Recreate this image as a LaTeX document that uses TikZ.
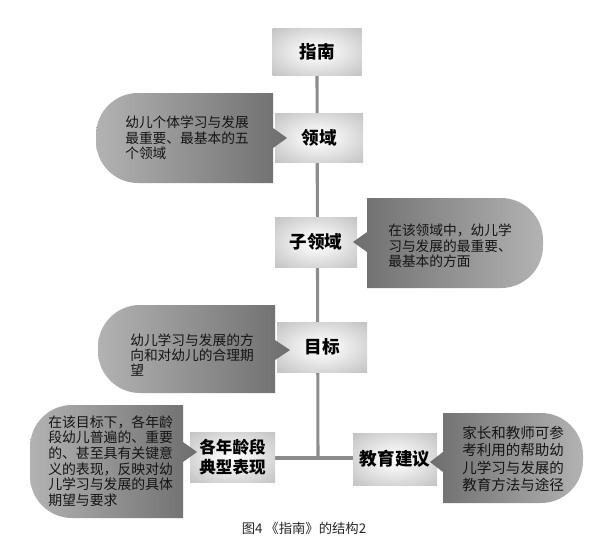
\documentclass[tikz,border=0pt]{standalone}
\usepackage{fontspec}
\setmainfont{Noto Sans CJK SC}
\usetikzlibrary{calc,backgrounds}
\pgfdeclareradialshading{boxshade}{\pgfpoint{0bp}{0bp}}{color(0bp)=(white); color(8bp)=(white!96!black); color(50bp)=(black!34); color(100bp)=(black!34)}
\newcommand{\lblob}[8]{% x1 y1 x2 y2 xt yt r shades
  \shade[#8] (#3,#2) -- ({#1+#7},#2) .. controls ({#1+0.448*#7},#2) and (#1,{#2+0.448*#7}) .. (#1,{#2+#7})
    -- (#1,{#4-#7}) .. controls (#1,{#4-0.448*#7}) and ({#1+0.448*#7},#4) .. ({#1+#7},#4)
    -- (#3,#4) -- (#3,{#6+10}) -- (#5,#6) -- (#3,{#6-10}) -- cycle;}
\newcommand{\rblob}[8]{% x1 y1 x2 y2 xt yt r shades
  \shade[#8] (#1,#2) -- ({#3-#7},#2) .. controls ({#3-0.448*#7},#2) and (#3,{#2+0.448*#7}) .. (#3,{#2+#7})
    -- (#3,{#4-#7}) .. controls (#3,{#4-0.448*#7}) and ({#3-0.448*#7},#4) .. ({#3-#7},#4)
    -- (#1,#4) -- (#1,{#6+10}) -- (#5,#6) -- (#1,{#6-10}) -- cycle;}
\begin{document}
\begin{tikzpicture}[x=0.75pt,y=-0.75pt,
  topic/.style={shade,shading=boxshade,inner sep=0pt,font=\fontsize{13.2}{15}\selectfont\bfseries,text=black,align=center},
  desc/.style={anchor=west,inner sep=0pt,align=left,text=black!92,font=\fontsize{10.3}{11.5}\selectfont},
  trunk/.style={draw=black!45,line width=2.3pt},
  lshade/.style={left color=black!30,right color=black!57},
  rshade/.style={left color=black!57,right color=black!30}]
\useasboundingbox (0,0) rectangle (601,553);
% topic boxes
\node[topic,minimum width=66.75pt,minimum height=35.25pt] (zn) at (317,51.5) {指南};
\node[topic,minimum width=66pt,minimum height=36.75pt] (ly) at (319,137.5) {领域};
\node[topic,minimum width=61.5pt,minimum height=37.5pt] (zly) at (316,242) {子领域};
\node[topic,minimum width=67.5pt,minimum height=37.5pt] (mb) at (322,347) {目标};
\node[topic,minimum width=63.75pt,minimum height=37.5pt,font=\fontsize{12.4}{15}\selectfont\bfseries] (nl) at (232.5,457) {各年龄段\\典型表现};
\node[topic,minimum width=63pt,minimum height=39pt] (jy) at (395,459) {教育建议};
% trunk connector behind the boxes
\coordinate (junc) at (318,458);
\begin{scope}[on background layer]
\draw[trunk] (zn.south) -- (junc);
\draw[trunk] (nl.east |- junc) -- (jy.west |- junc);
\end{scope}
% blobs
\lblob{96}{93}{273}{183}{287}{138}{42}{lshade}
\rblob{367}{198}{543}{288}{353}{242}{42}{rshade}
\lblob{98}{305}{275}{393}{290}{350}{42}{lshade}
\lblob{30}{405}{183}{518}{197}{452}{42}{lshade}
\rblob{443}{413}{583}{503}{430}{462}{42}{rshade}
% descriptions
\node[desc] (d1) at (125,138) {幼儿个体学习与发展\\最重要、最基本的五\\个领域};
\node[desc] (d2) at (388,246) {在该领域中，幼儿学\\习与发展的最重要、\\最基本的方面};
\node[desc] (d3) at (130,355) {幼儿学习与发展的方\\向和对幼儿的合理期\\望};
\node[desc,font=\fontsize{10.4}{11.7}\selectfont] (d4) at (48,461) {在该目标下，各年龄\\段幼儿普遍的、重要\\的、甚至具有关键意\\义的表现，反映对幼\\儿学习与发展的具体\\期望与要求};
\node[desc,font=\fontsize{10.9}{13.2}\selectfont] (d5) at (462,459) {家长和教师可参\\考利用的帮助幼\\儿学习与发展的\\教育方法与途径};
% caption
\node[font=\fontsize{10}{12}\selectfont,text=black!85] (cap) at (304,528) {图4 《指南》的结构2};
\end{tikzpicture}
\end{document}
